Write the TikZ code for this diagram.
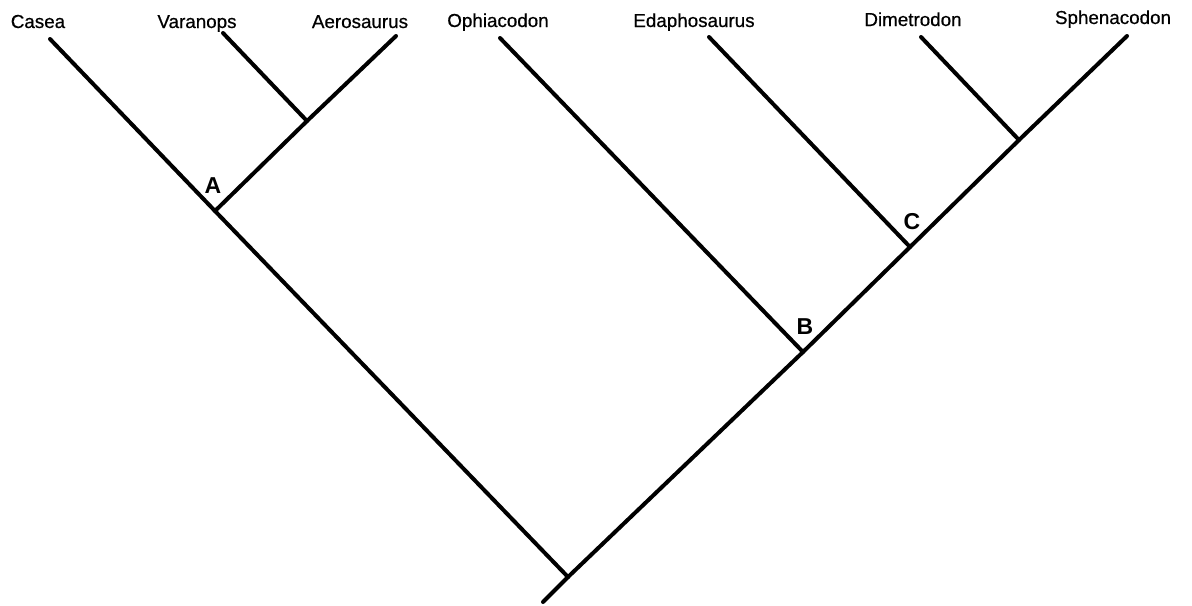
\documentclass[tikz,border=0pt]{standalone}
\usepackage{fontspec}
\setmainfont{Liberation Sans}
\newfontfamily\taxfont[FakeBold=0.6]{Liberation Sans}
\begin{document}
\begin{tikzpicture}[x=0.5pt,y=-0.5pt,
  branch/.style={line width=2pt, line cap=round},
  taxon/.style={font=\taxfont\fontsize{9.4}{11}\selectfont, inner sep=0pt, anchor=base},
  clade/.style={font=\bfseries\fontsize{11.5}{13}\selectfont, inner sep=0pt}]
\useasboundingbox (0,0) rectangle (1192,605);

% taxon names
\node[taxon] (casea)  at (38,28)   {Casea};
\node[taxon] (varan)  at (197,28)  {Varanops};
\node[taxon] (aero)   at (360,28)  {Aerosaurus};
\node[taxon] (ophia)  at (498,27)  {Ophiacodon};
\node[taxon] (edaph)  at (694,27)  {Edaphosaurus};
\node[taxon] (dimet)  at (913,26)  {Dimetrodon};
\node[taxon] (sphen)  at (1113,24) {Sphenacodon};

% branch tips
\coordinate (tCasea) at (50,39);
\coordinate (tVaran) at (223,33);
\coordinate (tAero)  at (396,36);
\coordinate (tOphia) at (500,38);
\coordinate (tEdaph) at (709,37);
\coordinate (tDimet) at (921,37);
\coordinate (tSphen) at (1127,36);

% internal nodes
\coordinate (root) at (568,577);
\coordinate (stem) at (543,602);
\coordinate (nA)   at (215,211);
\coordinate (nVA)  at (307,121);
\coordinate (nB)   at (803,352);
\coordinate (nC)   at (910,247);
\coordinate (nDS)  at (1019,140);

% tree
\draw[branch] (stem) -- (root);
\draw[branch] (root) -- (nA) -- (tCasea);
\draw[branch] (nA) -- (nVA) -- (tAero);
\draw[branch] (nVA) -- (tVaran);
\draw[branch] (root) -- (nB) -- (nC) -- (nDS) -- (tSphen);
\draw[branch] (nB) -- (tOphia);
\draw[branch] (nC) -- (tEdaph);
\draw[branch] (nDS) -- (tDimet);

% clade letters
\node[clade] (lA) at (213,186) {A};
\node[clade] (lB) at (805,327) {B};
\node[clade] (lC) at (912,222) {C};
\end{tikzpicture}
\end{document}
